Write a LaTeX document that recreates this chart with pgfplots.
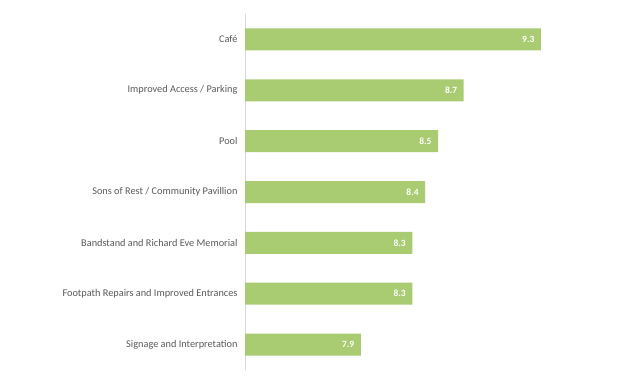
\documentclass[border=0pt]{standalone}
\usepackage{pgfplots}
\pgfplotsset{compat=1.18}
\usepackage{fontspec}
\setmainfont{Carlito}
\definecolor{bargreen}{RGB}{169,203,113}
\definecolor{labgrey}{RGB}{89,89,89}
\definecolor{axgrey}{RGB}{217,217,217}
\begin{document}
\begin{tikzpicture}
\path[use as bounding box] (0,0) rectangle (630bp,376bp);
\begin{axis}[
  at={(245bp,6bp)}, anchor=south west,
  scale only axis, width=386bp, height=356bp,
  xbar, bar width=22bp,
  xmin=7, xmax=10, ymin=-0.5, ymax=6.5,
  y dir=reverse,
  axis x line=none,
  axis y line=left,
  axis line style={-, draw=axgrey, line width=1bp},
  ytick={0,1,2,3,4,5,6},
  yticklabels={Café, Improved Access / Parking, Pool, Sons of Rest / Community Pavillion, Bandstand and Richard Eve Memorial, Footpath Repairs and Improved Entrances, Signage and Interpretation},
  yticklabel style={font=\fontsize{10.3bp}{12bp}\selectfont, text=labgrey, xshift=-4bp},
  major tick length=0pt,
  nodes near coords,
  point meta=explicit symbolic,
  nodes near coords style={anchor=east, font=\fontsize{9.5bp}{11bp}\selectfont\bfseries, text=white, xshift=-3bp},
  clip=false,
]
\addplot[fill=bargreen, draw=none] table[meta=lab] {
x y lab
9.3 0 9.3
8.7 1 8.7
8.5 2 8.5
8.4 3 8.4
8.3 4 8.3
8.3 5 8.3
7.9 6 7.9
};
\end{axis}
\end{tikzpicture}
\end{document}
